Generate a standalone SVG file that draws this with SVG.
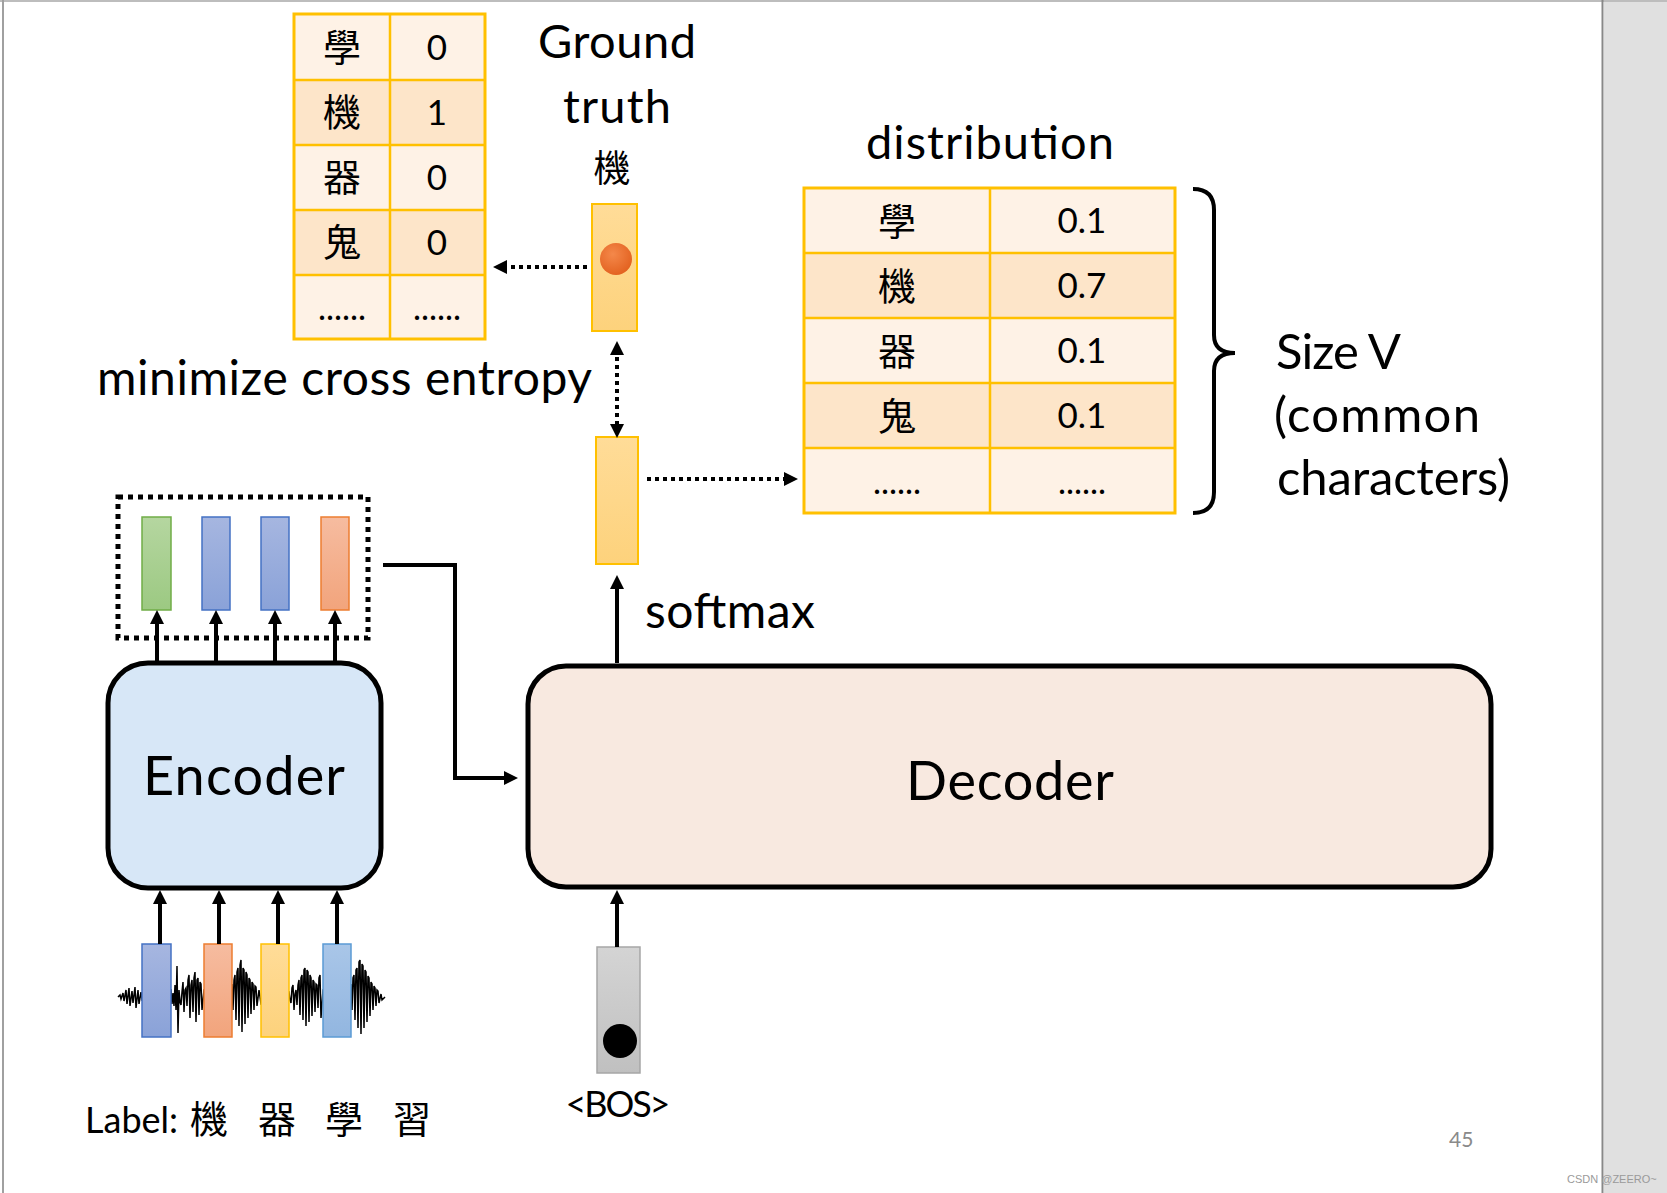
<svg xmlns="http://www.w3.org/2000/svg" width="1667" height="1193" viewBox="0 0 1667 1193">
<style>
.t{font-family:"Lato","Liberation Sans",sans-serif;fill:#000}
.cjk{font-family:"Noto Sans CJK TC","Noto Sans CJK SC",sans-serif;fill:#000}
.light{fill:#fef2e6}
.dark{fill:#fde5c9}
.tb{stroke:#ffc000;stroke-width:3;fill:none}
.tl{stroke:#ffc000;stroke-width:2.5}
.solid{stroke:#000;stroke-width:4;fill:none}
.dot{stroke:#000;stroke-width:4;fill:none;stroke-dasharray:4 4}
</style>
<defs>
<marker id="ah" markerWidth="14" markerHeight="14" refX="8" refY="7" orient="auto" markerUnits="userSpaceOnUse"><path d="M0,0 L14,7 L0,14 Z" fill="#000"/></marker>
<marker id="ahs" markerWidth="14" markerHeight="14" refX="6" refY="7" orient="auto-start-reverse" markerUnits="userSpaceOnUse"><path d="M0,0 L14,7 L0,14 Z" fill="#000"/></marker>
<linearGradient id="gy" x1="0" y1="0" x2="0" y2="1"><stop offset="0" stop-color="#ffdc98"/><stop offset="1" stop-color="#fdd27c"/></linearGradient>
<linearGradient id="gg" x1="0" y1="0" x2="0" y2="1"><stop offset="0" stop-color="#b5d6a0"/><stop offset="1" stop-color="#9cc982"/></linearGradient>
<linearGradient id="gb" x1="0" y1="0" x2="0" y2="1"><stop offset="0" stop-color="#a6b6e0"/><stop offset="1" stop-color="#8aa2d8"/></linearGradient>
<linearGradient id="go" x1="0" y1="0" x2="0" y2="1"><stop offset="0" stop-color="#f6bca0"/><stop offset="1" stop-color="#f2a47c"/></linearGradient>
<linearGradient id="glb" x1="0" y1="0" x2="0" y2="1"><stop offset="0" stop-color="#a9c6e8"/><stop offset="1" stop-color="#92b6e0"/></linearGradient>
<linearGradient id="ggr" x1="0" y1="0" x2="0" y2="1"><stop offset="0" stop-color="#d4d4d4"/><stop offset="1" stop-color="#c0c0c0"/></linearGradient>
<radialGradient id="gc" cx="0.4" cy="0.35" r="0.7"><stop offset="0" stop-color="#f4884a"/><stop offset="1" stop-color="#e2601e"/></radialGradient>
</defs>
<rect width="1667" height="1193" fill="#fff"/>
<rect x="1604" y="0" width="63" height="1193" fill="#e0e0e0"/>
<line x1="0" y1="1" x2="1667" y2="1" stroke="#bdbdbd" stroke-width="2"/>
<line x1="3" y1="0" x2="3" y2="1193" stroke="#a0a0a0" stroke-width="2"/>
<line x1="1602.5" y1="0" x2="1602.5" y2="1193" stroke="#888" stroke-width="2"/>

<g id="onehot-table">
<rect x="294" y="14" width="191" height="66" class="light"/>
<rect x="294" y="80" width="191" height="65" class="dark"/>
<rect x="294" y="145" width="191" height="65" class="light"/>
<rect x="294" y="210" width="191" height="65" class="dark"/>
<rect x="294" y="275" width="191" height="64" class="light"/>
<line x1="294" y1="80" x2="485" y2="80" class="tl"/>
<line x1="294" y1="145" x2="485" y2="145" class="tl"/>
<line x1="294" y1="210" x2="485" y2="210" class="tl"/>
<line x1="294" y1="275" x2="485" y2="275" class="tl"/>
<line x1="390" y1="14" x2="390" y2="339" class="tl"/>
<rect x="294" y="14" width="191" height="325" class="tb"/>
<text class="cjk" x="342" y="61" font-size="38" text-anchor="middle">學</text>
<text class="cjk" x="342" y="126" font-size="38" text-anchor="middle">機</text>
<text class="cjk" x="342" y="191" font-size="38" text-anchor="middle">器</text>
<text class="cjk" x="342" y="256" font-size="38" text-anchor="middle">鬼</text>
<text class="t" x="342" y="320" font-size="34" text-anchor="middle">......</text>
<text class="t" x="437" y="60" font-size="35" text-anchor="middle">0</text>
<text class="t" x="437" y="125" font-size="35" text-anchor="middle">1</text>
<text class="t" x="437" y="190" font-size="35" text-anchor="middle">0</text>
<text class="t" x="437" y="255" font-size="35" text-anchor="middle">0</text>
<text class="t" x="437" y="320" font-size="34" text-anchor="middle">......</text>
</g>

<g id="ground-truth">
<text class="t" x="617" y="58" font-size="47" text-anchor="middle" textLength="158">Ground</text>
<text class="t" x="617" y="123" font-size="47" text-anchor="middle" textLength="108">truth</text>
<text class="cjk" x="612" y="182" font-size="37" text-anchor="middle">機</text>
<rect x="592" y="204" width="45" height="127" fill="url(#gy)" stroke="#ffc000" stroke-width="2"/>
<circle cx="616" cy="259" r="16" fill="url(#gc)"/>
</g>

<g id="distribution-table">
<text class="t" x="990" y="159" font-size="47" text-anchor="middle" textLength="248">distribution</text>
<rect x="804" y="188" width="371" height="65" class="light"/>
<rect x="804" y="253" width="371" height="65" class="dark"/>
<rect x="804" y="318" width="371" height="65" class="light"/>
<rect x="804" y="383" width="371" height="65" class="dark"/>
<rect x="804" y="448" width="371" height="65" class="light"/>
<line x1="804" y1="253" x2="1175" y2="253" class="tl"/>
<line x1="804" y1="318" x2="1175" y2="318" class="tl"/>
<line x1="804" y1="383" x2="1175" y2="383" class="tl"/>
<line x1="804" y1="448" x2="1175" y2="448" class="tl"/>
<line x1="990" y1="188" x2="990" y2="513" class="tl"/>
<rect x="804" y="188" width="371" height="325" class="tb"/>
<text class="cjk" x="897" y="235" font-size="38" text-anchor="middle">學</text>
<text class="cjk" x="897" y="300" font-size="38" text-anchor="middle">機</text>
<text class="cjk" x="897" y="365" font-size="38" text-anchor="middle">器</text>
<text class="cjk" x="897" y="430" font-size="38" text-anchor="middle">鬼</text>
<text class="t" x="897" y="494" font-size="34" text-anchor="middle">......</text>
<text class="t" x="1082" y="233" font-size="35" text-anchor="middle">0.1</text>
<text class="t" x="1082" y="298" font-size="35" text-anchor="middle">0.7</text>
<text class="t" x="1082" y="363" font-size="35" text-anchor="middle">0.1</text>
<text class="t" x="1082" y="428" font-size="35" text-anchor="middle">0.1</text>
<text class="t" x="1082" y="494" font-size="34" text-anchor="middle">......</text>
</g>

<g id="size-v">
<path d="M1193,189 Q1214,189 1214,210 L1214,335 Q1214,353 1235,353 Q1214,353 1214,371 L1214,492 Q1214,513 1193,513" fill="none" stroke="#000" stroke-width="4"/>
<text class="t" x="1276" y="369" font-size="49" textLength="125">Size V</text>
<text class="t" x="1274" y="432" font-size="49" textLength="206">(common</text>
<text class="t" x="1277" y="495" font-size="49" textLength="233">characters)</text>
</g>

<g id="cross-entropy">
<text class="t" x="97" y="395" font-size="48" textLength="495">minimize cross entropy</text>
</g>

<g id="softmax-output">
<rect x="596" y="437" width="42" height="127" fill="url(#gy)" stroke="#ffc000" stroke-width="2"/>
<text class="t" x="645" y="628" font-size="48" textLength="170">softmax</text>
</g>

<g id="encoder-outputs">
<rect x="118" y="497" width="250" height="141" fill="none" stroke="#000" stroke-width="5" stroke-dasharray="5 5"/>
<rect x="142" y="517" width="29" height="93" fill="url(#gg)" stroke="#70ad47" stroke-width="1.5"/>
<rect x="202" y="517" width="28" height="93" fill="url(#gb)" stroke="#4472c4" stroke-width="1.5"/>
<rect x="261" y="517" width="28" height="93" fill="url(#gb)" stroke="#4472c4" stroke-width="1.5"/>
<rect x="321" y="517" width="28" height="93" fill="url(#go)" stroke="#ed7d31" stroke-width="1.5"/>
</g>

<g id="encoder">
<rect x="108" y="663" width="273" height="225" rx="40" fill="#d7e7f7" stroke="#000" stroke-width="5"/>
<text class="t" x="244" y="795" font-size="54" text-anchor="middle" textLength="202">Encoder</text>
</g>

<g id="decoder">
<rect x="528" y="666" width="963" height="221" rx="38" fill="#f8e9e0" stroke="#000" stroke-width="5"/>
<text class="t" x="1010" y="800" font-size="54" text-anchor="middle" textLength="208">Decoder</text>
</g>

<g id="audio-input">
<path d="M118,997 L120,995 L121,999 L123,993 L124,1001 L126,990 L127,1004 L129,988 L130,1006 L132,991 L133,1003 L135,987 L136,1008 L138,990 L139,1004 L141,992 L142,1000 L171,990 L172,1004 L173,993 L174,1006 L175,985 L176,1010 L177,966 L178,1033 L179,990 L180,1002 L181,1005 L182,992 L183,982 L184,1012 L185,990 L186,988 L187,1006 L188,980 L189,975 L190,1018 L191,985 L192,980 L193,1012 L194,978 L195,972 L196,1022 L197,980 L198,978 L199,1015 L200,982 L201,984 L202,1010 L204,990 L232,985 L233,1010 L234,980 L235,975 L236,1020 L237,972 L238,968 L239,1026 L240,965 L241,960 L242,1032 L243,968 L244,970 L245,1024 L246,972 L247,975 L248,1018 L249,978 L250,980 L251,1014 L252,982 L253,984 L254,1010 L255,986 L256,987 L257,1006 L259,990 L261,1004 L289,992 L290,1000 L291,1003 L292,988 L293,985 L294,1010 L295,994 L296,990 L297,1005 L298,985 L299,980 L300,1015 L301,978 L302,975 L303,1020 L304,970 L305,968 L306,1026 L307,970 L308,972 L309,1022 L310,975 L311,978 L312,1016 L313,980 L314,982 L315,1012 L316,984 L317,985 L318,1008 L319,978 L320,975 L321,1018 L323,990 L351,985 L352,1010 L353,978 L354,975 L355,1020 L356,970 L357,968 L358,1028 L359,962 L360,960 L361,1034 L362,964 L363,966 L364,1028 L365,970 L366,972 L367,1022 L368,976 L369,978 L370,1016 L371,982 L372,984 L373,1010 L374,986 L375,988 L376,1006 L377,990 L378,991 L379,1003 L381,994 L382,1000 L385,997" fill="none" stroke="#000" stroke-width="1.5"/>
<rect x="142" y="944" width="29" height="93" fill="url(#gb)" stroke="#4472c4" stroke-width="1.5"/>
<rect x="204" y="944" width="28" height="93" fill="url(#go)" stroke="#ed7d31" stroke-width="1.5"/>
<rect x="261" y="944" width="28" height="93" fill="url(#gy)" stroke="#ffc000" stroke-width="1.5"/>
<rect x="323" y="944" width="28" height="93" fill="url(#glb)" stroke="#5b9bd5" stroke-width="1.5"/>
</g>

<g id="label">
<text class="t" x="85" y="1133" font-size="36">Label:</text>
<text class="cjk" x="190" y="1133" font-size="38">機</text>
<text class="cjk" x="258" y="1133" font-size="38">器</text>
<text class="cjk" x="325" y="1133" font-size="38">學</text>
<text class="cjk" x="393" y="1133" font-size="38">習</text>
</g>

<g id="bos">
<rect x="597" y="947" width="43" height="126" fill="url(#ggr)" stroke="#a6a6a6" stroke-width="1.5"/>
<circle cx="620" cy="1041" r="17" fill="#000"/>
<text class="t" x="618" y="1117" font-size="36" text-anchor="middle" textLength="105">&lt;BOS&gt;</text>
</g>

<g id="connectors">
<line x1="587" y1="267" x2="499" y2="267" class="dot" marker-end="url(#ah)"/>
<line x1="617" y1="349" x2="617" y2="432" class="dot" marker-start="url(#ahs)" marker-end="url(#ah)"/>
<line x1="647" y1="479" x2="792" y2="479" class="dot" marker-end="url(#ah)"/>
<line x1="617" y1="663" x2="617" y2="581" class="solid" marker-end="url(#ah)"/>
<line x1="617" y1="947" x2="617" y2="896" class="solid" marker-end="url(#ah)"/>
<path d="M383,565 H455 V778 H512" class="solid" marker-end="url(#ah)"/>
<line x1="157" y1="661" x2="157" y2="616" class="solid" marker-end="url(#ah)"/>
<line x1="216" y1="661" x2="216" y2="616" class="solid" marker-end="url(#ah)"/>
<line x1="275" y1="661" x2="275" y2="616" class="solid" marker-end="url(#ah)"/>
<line x1="335" y1="661" x2="335" y2="616" class="solid" marker-end="url(#ah)"/>
<line x1="160" y1="944" x2="160" y2="896" class="solid" marker-end="url(#ah)"/>
<line x1="219" y1="944" x2="219" y2="896" class="solid" marker-end="url(#ah)"/>
<line x1="278" y1="944" x2="278" y2="896" class="solid" marker-end="url(#ah)"/>
<line x1="337" y1="944" x2="337" y2="896" class="solid" marker-end="url(#ah)"/>
</g>

<g id="footer">
<text x="1449" y="1147" font-family="Lato, 'Liberation Sans', sans-serif" font-size="21" fill="#8a8a8a">45</text>
<text x="1567" y="1183" font-family="'Liberation Sans', sans-serif" font-size="11" fill="#9a9a9a">CSDN @ZEERO~</text>
</g>
</svg>
